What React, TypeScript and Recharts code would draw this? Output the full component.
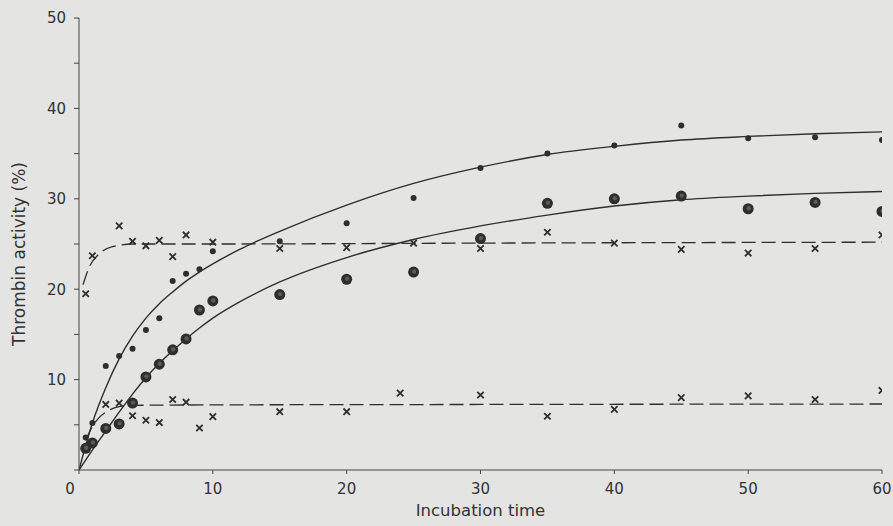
import { ComposedChart, Line, Scatter, XAxis, YAxis } from 'recharts';

// measured points (incubation time, thrombin activity %)
const dotTimes = [0.5, 1, 2, 3, 4, 5, 6, 7, 8, 9, 10, 15, 20, 25, 30, 35, 40, 45, 50, 55, 60];
const dotActivity = [3.6, 5.2, 11.5, 12.6, 13.4, 15.5, 16.8, 20.9, 21.7, 22.2, 24.2, 25.3, 27.3, 30.1, 33.4, 35.0, 35.9, 38.1, 36.7, 36.8, 36.5];

const circleTimes = [0.5, 1, 2, 3, 4, 5, 6, 7, 8, 9, 10, 15, 20, 25, 30, 35, 40, 45, 50, 55, 60];
const circleActivity = [2.4, 3.0, 4.6, 5.1, 7.4, 10.3, 11.7, 13.3, 14.5, 17.7, 18.7, 19.4, 21.1, 21.9, 25.6, 29.5, 30.0, 30.3, 28.9, 29.6, 28.6];

const upperCrossTimes = [0.5, 1, 3, 4, 5, 6, 7, 8, 10, 15, 20, 25, 30, 35, 40, 45, 50, 55, 60];
const upperCrossActivity = [19.5, 23.7, 27.0, 25.3, 24.8, 25.4, 23.6, 26.0, 25.2, 24.5, 24.6, 25.1, 24.5, 26.3, 25.1, 24.4, 24.0, 24.5, 26.0];

const lowerCrossTimes = [2, 3, 4, 5, 6, 7, 8, 9, 10, 15, 20, 24, 30, 35, 40, 45, 50, 55, 60];
const lowerCrossActivity = [7.25, 7.4, 6.0, 5.5, 5.25, 7.8, 7.5, 4.65, 5.9, 6.45, 6.45, 8.5, 8.3, 5.95, 6.7, 8.0, 8.2, 7.8, 8.8];

// fitted curves as drawn in the figure
const upperCurveTimes = [0, 1, 2, 3, 4, 5, 6, 7, 8, 9, 10, 12, 15, 20, 25, 30, 35, 40, 45, 50, 55, 60];
const upperCurveActivity = [0, 5.2, 9.1, 12.3, 14.8, 16.8, 18.4, 19.7, 20.9, 21.9, 22.8, 24.4, 26.4, 29.3, 31.7, 33.5, 34.9, 35.8, 36.5, 36.9, 37.2, 37.4];

const lowerCurveTimes = [0, 1, 2, 3, 4, 5, 6, 7, 8, 9, 10, 12, 15, 20, 25, 30, 35, 40, 45, 50, 55, 60];
const lowerCurveActivity = [0, 2.2, 4.3, 6.4, 8.4, 10.2, 11.8, 13.2, 14.5, 15.7, 16.8, 18.6, 20.8, 23.5, 25.5, 27.0, 28.2, 29.2, 29.9, 30.3, 30.6, 30.8];

const upperDashTimes = [0.3, 0.75, 1.5, 2.5, 4, 10, 30, 60];
const upperDashActivity = [20.5, 22.4, 23.9, 24.7, 25.0, 25.0, 25.1, 25.2];

const lowerDashTimes = [0.5, 1, 1.5, 2, 3, 4, 10, 30, 60];
const lowerDashActivity = [3.3, 4.8, 5.8, 6.4, 7.0, 7.15, 7.2, 7.25, 7.3];

const xTicks = [0, 10, 20, 30, 40, 50, 60];
const yTicks = [0, 5, 10, 15, 20, 25, 30, 35, 40, 45, 50];

const pairs = (xs: number[], ys: number[]) => xs.map((x, i) => ({ x, y: ys[i] }));

const INK = '#2e2e2e';
const FONT = 'DejaVu Sans';

const SmallDot = (p: any) => <circle cx={p.cx} cy={p.cy} r={3} fill={INK} />;

const BigDot = (p: any) => (
  <g>
    <circle cx={p.cx} cy={p.cy} r={5.5} fill={INK} />
    <circle cx={p.cx + 0.5} cy={p.cy - 0.5} r={2.2} fill="#5a5a5a" />
  </g>
);

const Cross = (p: any) => {
  const s = 3.2;
  return (
    <path
      d={`M${p.cx - s},${p.cy - s}L${p.cx + s},${p.cy + s}M${p.cx - s},${p.cy + s}L${p.cx + s},${p.cy - s}`}
      stroke={INK}
      strokeWidth={1.8}
      fill="none"
    />
  );
};

const XTick = (p: any) => (
  <text
    x={p.x + (p.payload.value === 0 ? -9 : 0)}
    y={p.y}
    dy="0.75em"
    textAnchor="middle"
    fontSize={15}
    fontFamily={FONT}
    fill="#333"
  >
    {p.payload.value}
  </text>
);

const XTitle = (p: any) => {
  const vb = p.viewBox;
  return (
    <text x={vb.x + vb.width / 2} y={vb.y + 46} textAnchor="middle" fontSize={16.5} fontFamily={FONT} fill="#333">
      Incubation time
    </text>
  );
};

const YTitle = (p: any) => {
  const vb = p.viewBox;
  const cy = vb.y + vb.height / 2 + 10;
  return (
    <text transform={`translate(25, ${cy}) rotate(-90)`} textAnchor="middle" fontSize={17} fontFamily={FONT} fill="#333">
      Thrombin activity (%)
    </text>
  );
};

const App = () => {
  return (
    <div style={{ position: 'absolute', left: 0, top: 0, width: 893, height: 526, background: '#e4e4e2' }}>
      <ComposedChart width={893} height={526} margin={{ top: 18, right: 11, bottom: 26, left: 0 }}>
        <XAxis
          dataKey="x"
          type="number"
          domain={[0, 60]}
          ticks={xTicks}
          allowDataOverflow
          height={30}
          stroke="#444"
          tickSize={4}
          tickMargin={9}
          tick={<XTick />}
          label={<XTitle />}
        />
        <YAxis
          type="number"
          domain={[0, 50]}
          ticks={yTicks}
          allowDataOverflow
          width={79}
          stroke="#444"
          tickSize={5}
          tickMargin={8}
          tick={{ fontSize: 15, fontFamily: FONT, fill: '#333' }}
          tickFormatter={(v) => (v % 10 === 0 && v !== 0 ? String(v) : '')}
          label={<YTitle />}
        />
        <Line data={pairs(upperCurveTimes, upperCurveActivity)} dataKey="y" type="monotone" stroke={INK} strokeWidth={1.4} dot={false} isAnimationActive={false} />
        <Line data={pairs(lowerCurveTimes, lowerCurveActivity)} dataKey="y" type="monotone" stroke={INK} strokeWidth={1.4} dot={false} isAnimationActive={false} />
        <Line data={pairs(upperDashTimes, upperDashActivity)} dataKey="y" type="monotone" stroke={INK} strokeWidth={1.3} strokeDasharray="14 6" dot={false} isAnimationActive={false} />
        <Line data={pairs(lowerDashTimes, lowerDashActivity)} dataKey="y" type="monotone" stroke={INK} strokeWidth={1.3} strokeDasharray="14 6" dot={false} isAnimationActive={false} />
        <Scatter data={pairs(dotTimes, dotActivity)} dataKey="y" shape={SmallDot} isAnimationActive={false} />
        <Scatter data={pairs(circleTimes, circleActivity)} dataKey="y" shape={BigDot} isAnimationActive={false} />
        <Scatter data={pairs(upperCrossTimes, upperCrossActivity)} dataKey="y" shape={Cross} isAnimationActive={false} />
        <Scatter data={pairs(lowerCrossTimes, lowerCrossActivity)} dataKey="y" shape={Cross} isAnimationActive={false} />
      </ComposedChart>
    </div>
  );
};

export default App;
